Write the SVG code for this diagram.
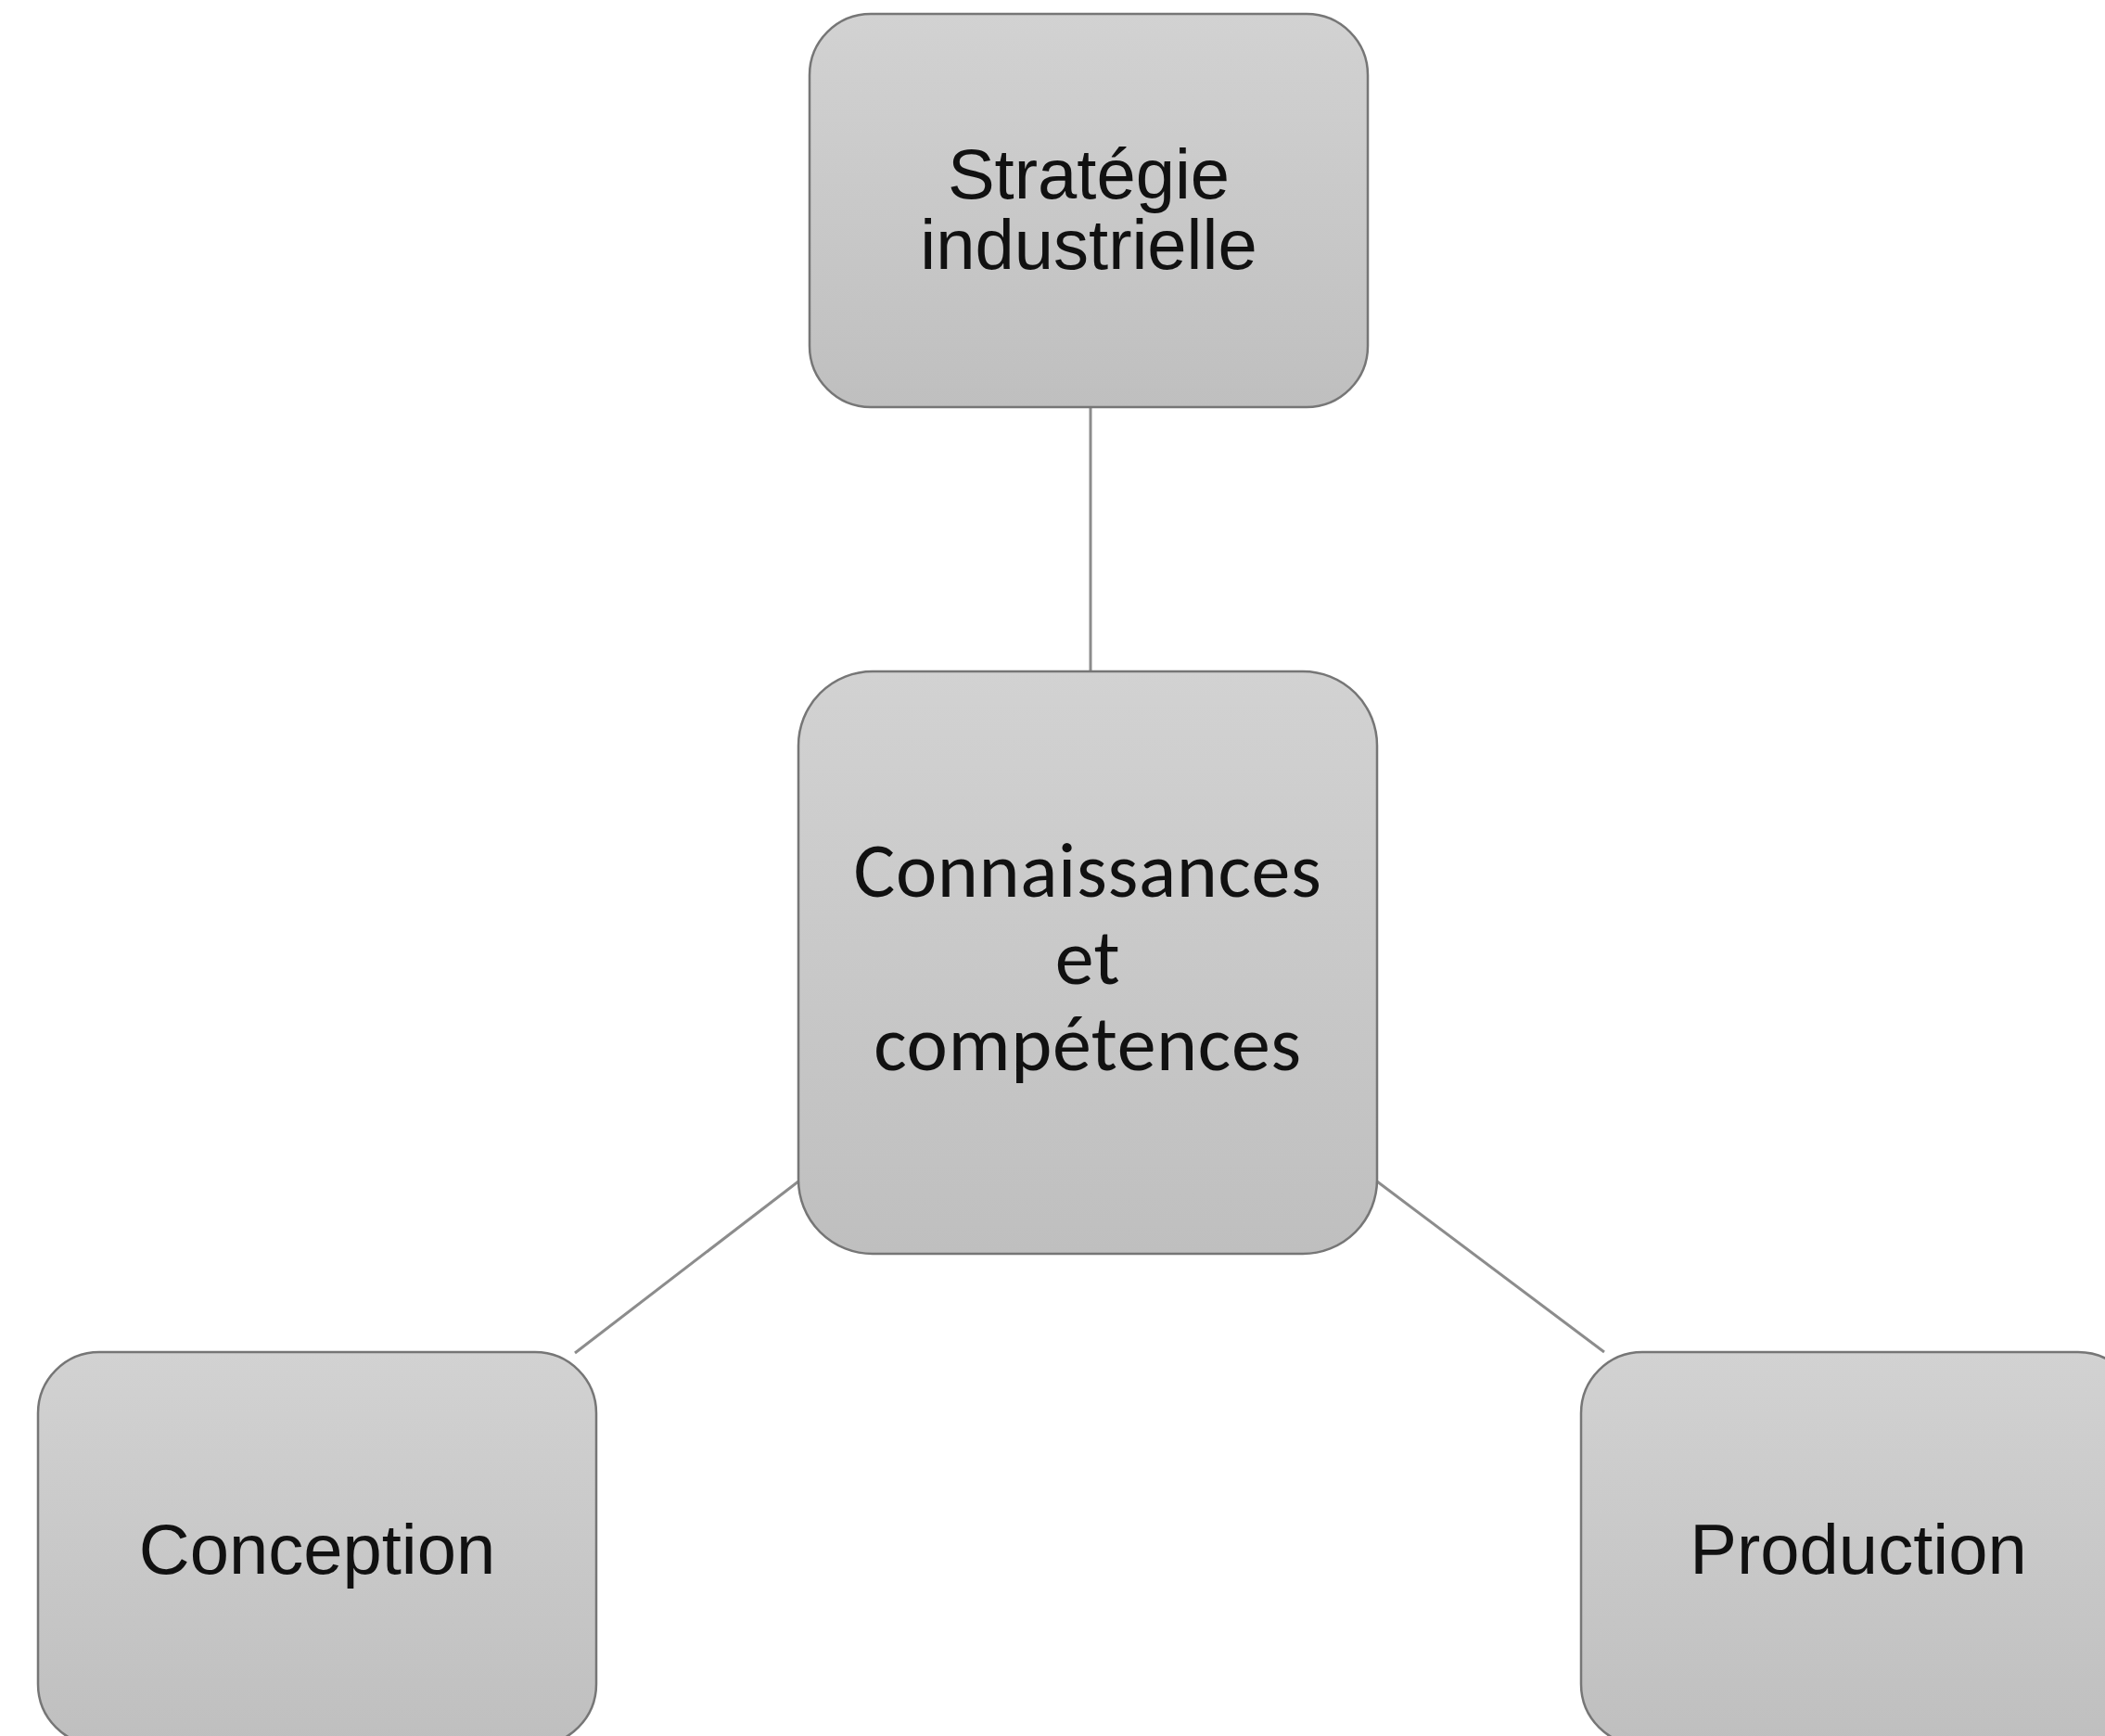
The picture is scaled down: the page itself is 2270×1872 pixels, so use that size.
<svg xmlns="http://www.w3.org/2000/svg" width="2270" height="1872" viewBox="0 0 2270 1872">
  <defs>
    <linearGradient id="g" x1="0" y1="0" x2="0" y2="1">
      <stop offset="0" stop-color="#d2d2d2"/>
      <stop offset="1" stop-color="#bfbfbf"/>
    </linearGradient>
    <style>
      .box { fill: url(#g); stroke: #767676; stroke-width: 2.5; }
      .lbl { font-family: "Liberation Sans", Arial, sans-serif; font-size: 76px; fill: #111; text-anchor: middle; }
      .lbl2 { font-family: Carlito, Calibri, Lato, "Open Sans", sans-serif; font-size: 84px; letter-spacing: 0.6px; fill: #111; text-anchor: middle; }
      .edge { stroke: #8c8c8c; stroke-width: 3; fill: none; }
    </style>
  </defs>
  <rect width="2270" height="1872" fill="#ffffff"/>
  <g id="connectors">
    <line class="edge" x1="1176" y1="439" x2="1176" y2="724"/>
    <line class="edge" x1="861" y1="1274" x2="620" y2="1459"/>
    <line class="edge" x1="1485" y1="1274" x2="1730" y2="1458"/>
  </g>
  <g id="strategie">
    <rect class="box" x="873" y="15" width="602" height="424" rx="66" ry="66"/>
    <text class="lbl"><tspan x="1174" y="214">Stratégie</tspan><tspan x="1174" y="290">industrielle</tspan></text>
  </g>
  <g id="connaissances">
    <rect class="box" x="861" y="724" width="624" height="628" rx="80" ry="80"/>
    <text class="lbl2"><tspan x="1173" y="967">Connaissances</tspan><tspan x="1173" y="1061">et</tspan><tspan x="1173" y="1154">compétences</tspan></text>
  </g>
  <g id="conception">
    <rect class="box" x="41" y="1458" width="602" height="424" rx="66" ry="66"/>
    <text class="lbl" x="342" y="1697">Conception</text>
  </g>
  <g id="production">
    <rect class="box" x="1705" y="1458" width="602" height="424" rx="66" ry="66"/>
    <text class="lbl" x="2004" y="1697">Production</text>
  </g>
</svg>
